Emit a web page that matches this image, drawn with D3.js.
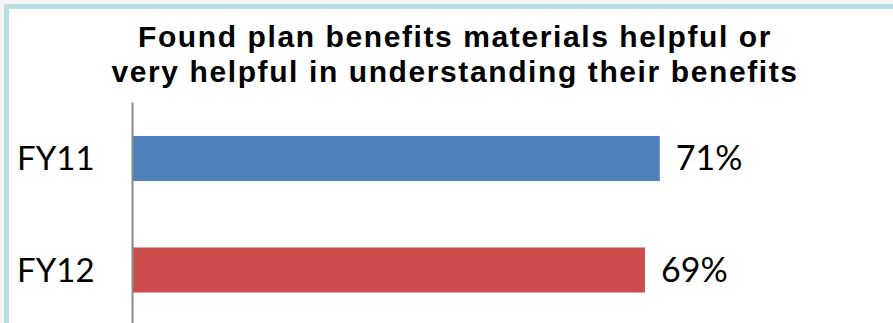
<!DOCTYPE html>
<html>
<head>
<meta charset="utf-8">
<script src="https://cdn.jsdelivr.net/npm/d3@7"></script>
<style>
  html, body { margin: 0; padding: 0; background: #ffffff; }
  svg { display: block; }
  text { font-family: Lato, "Open Sans", "Liberation Sans", sans-serif; fill: #000; }
  text.title { font-family: "Liberation Sans", Arial, sans-serif; }
</style>
</head>
<body>
<svg id="chart" width="893" height="323"></svg>
<script>
// Survey results by fiscal year
const categories = ["FY11", "FY12"];
const values = [0.71, 0.69];
const barColors = ["#4f81bd", "#cc4d4c"];
const titleLines = [
  "Found plan benefits materials helpful or",
  "very helpful in understanding their benefits"
];

const W = 893, H = 323;
const svg = d3.select("#chart");

// panel background and frame
svg.append("rect").attr("x", 0).attr("y", 0).attr("width", W).attr("height", H).attr("fill", "#f4f4f4");
svg.append("rect").attr("x", 4).attr("y", 4).attr("width", W).attr("height", H).attr("fill", "#b9dfe3");
svg.append("rect").attr("x", 9).attr("y", 9).attr("width", W).attr("height", H).attr("fill", "#ffffff");

const x = d3.scaleLinear().domain([0, 1]).range([133, 875]);
const y = d3.scaleBand().domain(categories).range([102.75, 325.75])
  .paddingInner(0.596).paddingOuter(0.298);

// title, one text element per line
svg.selectAll("text.title").data(titleLines).join("text")
  .attr("class", "title")
  .attr("text-anchor", "middle")
  .attr("font-weight", "bold")
  .attr("font-size", 30)
  .style("letter-spacing", "1.6px")
  .attr("x", 455)
  .attr("y", (d, i) => 47 + i * 35)
  .text(d => d);

// bars
svg.selectAll("rect.bar").data(categories).join("rect")
  .attr("class", "bar")
  .attr("x", x(0))
  .attr("y", d => y(d))
  .attr("width", (d, i) => x(values[i]) - x(0))
  .attr("height", y.bandwidth())
  .attr("fill", (d, i) => barColors[i]);

// value labels
svg.selectAll("text.val").data(categories).join("text")
  .attr("class", "val")
  .attr("x", (d, i) => x(values[i]) + 16)
  .attr("y", d => y(d) + y.bandwidth() / 2)
  .attr("dy", "0.35em")
  .attr("font-size", 34)
  .text((d, i) => d3.format(".0%")(values[i]));

// category labels
svg.selectAll("text.cat").data(categories).join("text")
  .attr("class", "cat")
  .attr("x", 17)
  .attr("y", d => y(d) + y.bandwidth() / 2)
  .attr("dy", "0.35em")
  .attr("font-size", 33)
  .text(d => d);

// vertical category axis line
const axis = svg.append("g").attr("transform", `translate(${x(0) - 1},0)`)
  .call(d3.axisLeft(y.copy().range([102, 323])).tickSize(0).tickFormat(""));
axis.select(".domain").attr("stroke", "#898989").attr("stroke-width", 2);
</script>
</body>
</html>
